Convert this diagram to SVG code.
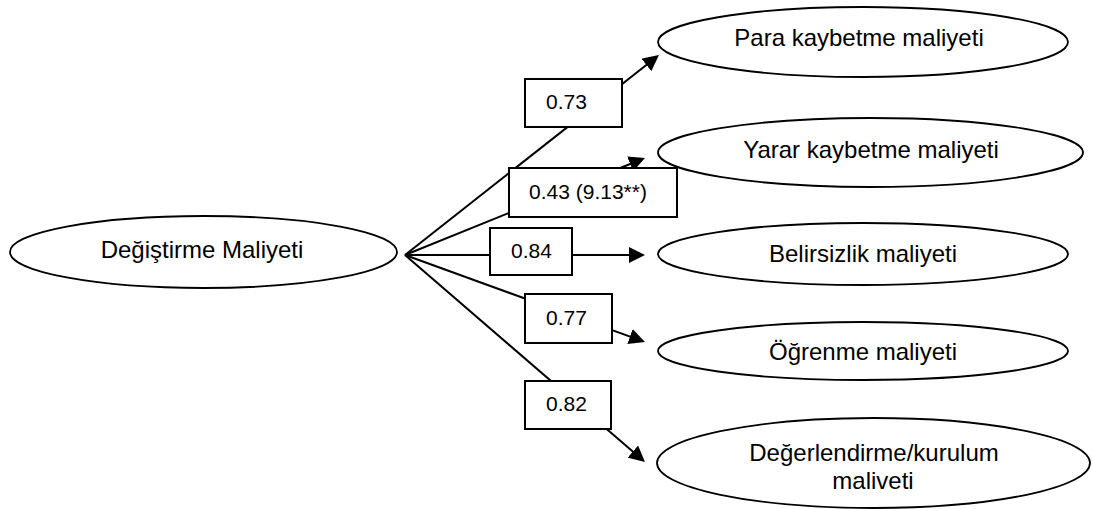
<svg xmlns="http://www.w3.org/2000/svg" width="1093" height="509" viewBox="0 0 1093 509">
  <style>
    .node ellipse { fill: #fff; stroke: #000; stroke-width: 1.8; }
    .node text { font-family: "Liberation Sans", Arial, sans-serif; font-size: 24px; fill: #000; text-anchor: middle; }
    .lbl rect { fill: #fff; stroke: #000; stroke-width: 2; }
    .lbl text { font-family: "Liberation Sans", Arial, sans-serif; font-size: 21px; fill: #000; }
    .edge { stroke: #000; stroke-width: 2; fill: none; marker-end: url(#arrow); }
  </style>
  <defs>
    <marker id="arrow" markerUnits="userSpaceOnUse" markerWidth="16" markerHeight="16" refX="6" refY="8" orient="auto">
      <path d="M0,0 L16,8 L0,16 Z" fill="#000"/>
    </marker>
  </defs>

  <!-- paths from the source construct to each dimension -->
  <g id="connectors">
    <line class="edge" x1="405" y1="255" x2="651.1" y2="61.2"/>
    <line class="edge" x1="405" y1="255" x2="635.7" y2="161.7"/>
    <line class="edge" x1="405" y1="255" x2="635" y2="255"/>
    <line class="edge" x1="405" y1="255" x2="635.6" y2="338.6"/>
    <line class="edge" x1="405" y1="255" x2="637.4" y2="455.5"/>
  </g>

  <!-- path coefficients -->
  <g id="label-para" class="lbl">
    <rect x="525" y="79" width="97" height="48"/>
    <text x="546" y="109">0.73</text>
  </g>
  <g id="label-yarar" class="lbl">
    <rect x="509" y="168" width="168" height="49"/>
    <text x="529" y="199">0.43 (9.13**)</text>
  </g>
  <g id="label-belirsizlik" class="lbl">
    <rect x="490" y="228" width="82" height="47"/>
    <text x="511" y="258">0.84</text>
  </g>
  <g id="label-ogrenme" class="lbl">
    <rect x="525" y="294" width="87" height="49"/>
    <text x="546" y="325">0.77</text>
  </g>
  <g id="label-degerlendirme" class="lbl">
    <rect x="525" y="381" width="86" height="48"/>
    <text x="546" y="411">0.82</text>
  </g>

  <!-- constructs -->
  <g id="node-degistirme" class="node">
    <ellipse cx="203.5" cy="252" rx="193.5" ry="36"/>
    <text x="202" y="257.5">Değiştirme Maliyeti</text>
  </g>
  <g id="node-para" class="node">
    <ellipse cx="863" cy="42" rx="205" ry="35"/>
    <text x="859" y="46">Para kaybetme maliyeti</text>
  </g>
  <g id="node-yarar" class="node">
    <ellipse cx="870.5" cy="152.5" rx="212.5" ry="34.5"/>
    <text x="871" y="158">Yarar kaybetme maliyeti</text>
  </g>
  <g id="node-belirsizlik" class="node">
    <ellipse cx="863" cy="254" rx="205" ry="31"/>
    <text x="863" y="262">Belirsizlik maliyeti</text>
  </g>
  <g id="node-ogrenme" class="node">
    <ellipse cx="863" cy="351" rx="205" ry="29"/>
    <text x="863" y="359.5">Öğrenme maliyeti</text>
  </g>
  <g id="node-degerlendirme" class="node">
    <ellipse cx="873.5" cy="463" rx="216.5" ry="45"/>
    <text x="874" y="461">Değerlendirme/kurulum</text>
    <text x="873" y="488.5">maliveti</text>
  </g>
</svg>
